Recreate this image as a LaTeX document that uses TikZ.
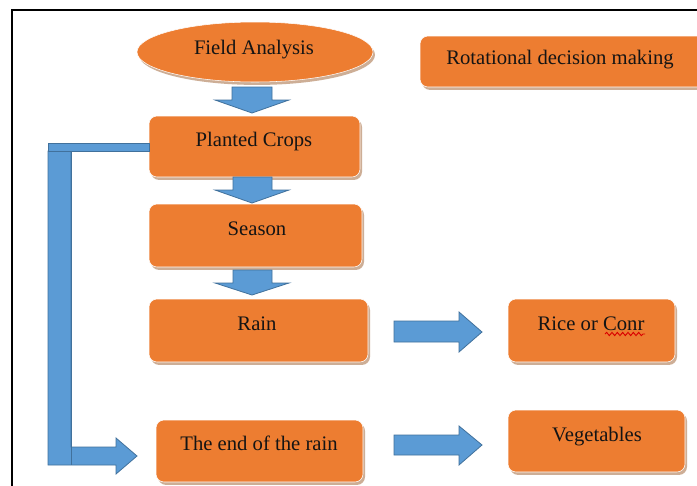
\documentclass[tikz,border=0pt]{standalone}
\usepackage{fontspec}
\setmainfont{Liberation Serif}
\usetikzlibrary{shapes.geometric,shadows,fit,decorations.pathmorphing}
\definecolor{boxorange}{HTML}{ED7D31}
\definecolor{arrowblue}{HTML}{5B9BD5}
\definecolor{arrowedge}{HTML}{41719C}
\definecolor{shadowtan}{HTML}{CDAE96}
\definecolor{txtcol}{HTML}{141414}
\tikzset{
  boxshadow/.style={drop shadow={shadow xshift=1.5pt, shadow yshift=-2.2pt, fill=shadowtan, opacity=1}},
  orangebox/.style={rectangle, rounded corners=6pt, fill=boxorange, draw=white, line width=0.4pt, inner sep=0pt, boxshadow},
  txt/.style={font=\fontsize{15.5}{18}\selectfont, text=txtcol, inner sep=0pt, anchor=base},
  blockarrow/.style={fill=arrowblue, draw=arrowedge, line width=0.6pt, line join=miter},
}
\begin{document}
\begin{tikzpicture}[x=0.75pt, y=-0.75pt]
\useasboundingbox (0,0) rectangle (697,486);
\fill[white] (0,0) rectangle (697,486);
% frame
\draw[black, line width=1.5pt] (12,486) -- (12,10) -- (710,10);

% nodes
\node[ellipse, fill=boxorange, draw=white, line width=0.4pt, minimum width={236*0.75pt}, minimum height={60*0.75pt}, inner sep=0pt, boxshadow] (field) at (255,52) {};
\node[txt] at (254,54) {Field Analysis};

\node[orangebox, fit={(420,36)(712,87)}] (rot) {};
\node[txt] at (560,64) {Rotational decision making};

\node[orangebox, fit={(149,116)(360,177)}] (planted) {};
\node[txt] at (254,146) {Planted Crops};

\node[orangebox, fit={(149,204)(362,267)}] (season) {};
\node[txt] at (257,235) {Season};

\node[orangebox, fit={(149,299)(368,362)}] (rain) {};
\node[txt] at (257,330) {Rain};

\node[orangebox, fit={(156,420)(363,482)}] (endrain) {};
\node[txt] at (259,450) {The end of the rain};

\node[orangebox, fit={(508,299)(675,362)}] (rice) {};
\node[txt] at (591,330) {Rice or Conr};
\draw[red!85!black, line width=0.7pt, decorate, decoration={snake, amplitude=1.2pt, segment length=4pt}] (605,334) -- (645,334);

\node[orangebox, fit={(508,410)(685,472)}] (veg) {};
\node[txt] at (597,441) {Vegetables};

% down block arrows
\draw[blockarrow] (232,87) -- (272,87) -- (272,100) -- (289,100) -- (252,113) -- (215,100) -- (232,100) -- cycle;
\draw[blockarrow] (233,177) -- (272,177) -- (272,190) -- (289,190) -- (252,203) -- (215,190) -- (233,190) -- cycle;
\draw[blockarrow] (233,270) -- (272,270) -- (272,283) -- (289,283) -- (252,295) -- (215,283) -- (233,283) -- cycle;

% right block arrows
\draw[blockarrow] (394,321) -- (459,321) -- (459,312) -- (482,332) -- (459,352) -- (459,342) -- (394,342) -- cycle;
\draw[blockarrow] (394,435) -- (459,435) -- (459,426) -- (482,445) -- (459,465) -- (459,455) -- (394,455) -- cycle;

% bent arrow from planted crops to end of rain
\draw[blockarrow] (48,151) -- (71,151) -- (71,447) -- (116,447) -- (116,438) -- (137,456) -- (116,474) -- (116,465) -- (48,465) -- cycle;
\draw[blockarrow] (48,143) rectangle (149,151);
\draw[arrowedge, line width=0.6pt] (71,151) -- (71,465);
\end{tikzpicture}
\end{document}
